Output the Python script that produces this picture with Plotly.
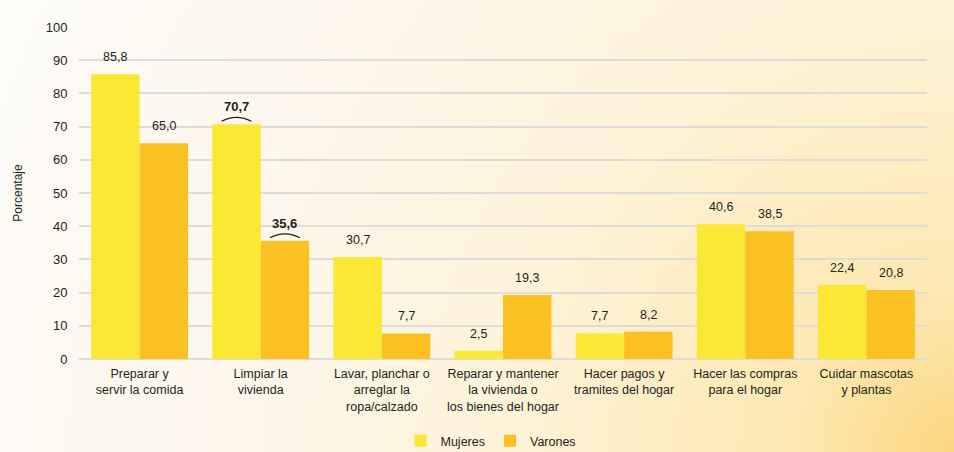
"""Tareas domésticas por sexo - barras agrupadas."""

import base64

import plotly.graph_objects as go

CATEGORIES = [
    "Preparar y<br>servir la comida",
    "Limpiar la<br>vivienda",
    "Lavar, planchar o<br>arreglar la<br>ropa/calzado",
    "Reparar y mantener<br>la vivienda o<br>los bienes del hogar",
    "Hacer pagos y<br>tramites del hogar",
    "Hacer las compras<br>para el hogar",
    "Cuidar mascotas<br>y plantas",
]
MUJERES = [85.8, 70.7, 30.7, 2.5, 7.7, 40.6, 22.4]
VARONES = [65.0, 35.6, 7.7, 19.3, 8.2, 38.5, 20.8]
# categories where the difference is flagged (bold label + arc)
HIGHLIGHT = [1]
Y_TICKS = [0, 10, 20, 30, 40, 50, 60, 70, 80, 90, 100]

COLORS = {"Mujeres": "#fae834", "Varones": "#fbc123"}
TEXT = "#231f20"
FONT = "Liberation Sans, Arial, sans-serif"

W, H = 954, 452
M = {"l": 79, "r": 27, "t": 27, "b": 93, "autoexpand": False}
PW = W - M["l"] - M["r"]
PH = H - M["t"] - M["b"]

# warm glow from the bottom-right corner
BG_SVG = (
    f'<svg xmlns="http://www.w3.org/2000/svg" width="{W}" height="{H}">'
    f'<defs><radialGradient id="g" gradientUnits="userSpaceOnUse" cx="{W}" cy="{H}" r="1060">'
    '<stop offset="0" stop-color="#fcd680"/>'
    '<stop offset="0.15" stop-color="#fde8b2"/>'
    '<stop offset="0.42" stop-color="#fef3d8"/>'
    '<stop offset="0.7" stop-color="#fdf7ec"/>'
    '<stop offset="0.9" stop-color="#fdfaf5"/>'
    '<stop offset="1" stop-color="#fefdfb"/>'
    "</radialGradient></defs>"
    f'<rect width="{W}" height="{H}" fill="url(#g)"/></svg>'
)
BG_URI = "data:image/svg+xml;base64," + base64.b64encode(BG_SVG.encode()).decode()


def _fmt(v: float) -> str:
    return f"{v:.1f}".replace(".", ",")


fig = go.Figure()
for name, vals in (("Mujeres", MUJERES), ("Varones", VARONES)):
    fig.add_trace(
        go.Bar(
            name=name,
            x=list(range(len(CATEGORIES))),
            y=vals,
            marker={"color": COLORS[name], "line": {"width": 0}},
        )
    )

annotations = []
shapes = []
BAR_OFF = 0.2  # half of a bar slot in category units (bargap 0.2, 2 bars)
for i in range(len(CATEGORIES)):
    for vals, off in ((MUJERES, -BAR_OFF), (VARONES, BAR_OFF)):
        bold = i in HIGHLIGHT
        label = f"<b>{_fmt(vals[i])}</b>" if bold else _fmt(vals[i])
        annotations.append(
            dict(
                x=i + off,
                y=vals[i],
                xref="x",
                yref="y",
                text=label,
                showarrow=False,
                yanchor="bottom",
                yshift=8,
                font={"size": 13 if bold else 12.5, "color": TEXT, "family": FONT},
            )
        )
        if bold:
            shapes.append(
                dict(
                    type="path",
                    xref="x",
                    yref="y",
                    xsizemode="pixel",
                    ysizemode="pixel",
                    xanchor=i + off,
                    yanchor=vals[i],
                    path="M -15 3 Q 0 11 15 3",
                    line={"color": TEXT, "width": 1.2},
                )
            )

fig.update_layout(
    width=W,
    height=H,
    margin=M,
    barmode="group",
    bargap=0.2,
    bargroupgap=0,
    paper_bgcolor="#ffffff",
    plot_bgcolor="rgba(0,0,0,0)",
    font={"family": FONT, "color": TEXT, "size": 13},
    images=[
        dict(
            source=BG_URI,
            xref="paper",
            yref="paper",
            x=-M["l"] / PW,
            y=1 + M["t"] / PH,
            sizex=W / PW,
            sizey=H / PH,
            xanchor="left",
            yanchor="top",
            sizing="stretch",
            layer="below",
        )
    ],
    xaxis={
        "tickmode": "array",
        "tickvals": list(range(len(CATEGORIES))),
        "ticktext": CATEGORIES,
        "tickfont": {"size": 12.5},
        "ticks": "outside",
        "ticklen": 3,
        "tickcolor": "rgba(0,0,0,0)",
        "showgrid": False,
        "showline": False,
        "zeroline": False,
        "automargin": False,
        "range": [-0.5, len(CATEGORIES) - 0.5],
    },
    yaxis={
        "range": [0, 100],
        "tickvals": Y_TICKS,
        "tickfont": {"size": 13},
        "ticks": "outside",
        "ticklen": 8,
        "tickcolor": "rgba(0,0,0,0)",
        "showgrid": True,
        "gridcolor": "#dedcd8",
        "gridwidth": 1.5,
        "zeroline": True,
        "zerolinecolor": "#dedcd8",
        "zerolinewidth": 1.5,
        "automargin": False,
        "title": {"text": "Porcentaje", "font": {"size": 12}, "standoff": 20},
    },
    legend={
        "orientation": "h",
        "x": 0.5 - 12 / PW,
        "xanchor": "center",
        "y": -(440 - 359 - 14) / PH,
        "yanchor": "top",
        "font": {"size": 12.5},
        "bgcolor": "rgba(0,0,0,0)",
        "itemwidth": 30,
        "tracegroupgap": 0,
    },
    annotations=annotations,
    shapes=shapes,
)

fig.write_html(
    "out.html",
    config={"displayModeBar": False},
    post_script="document.body.style.margin = '0';",
)
